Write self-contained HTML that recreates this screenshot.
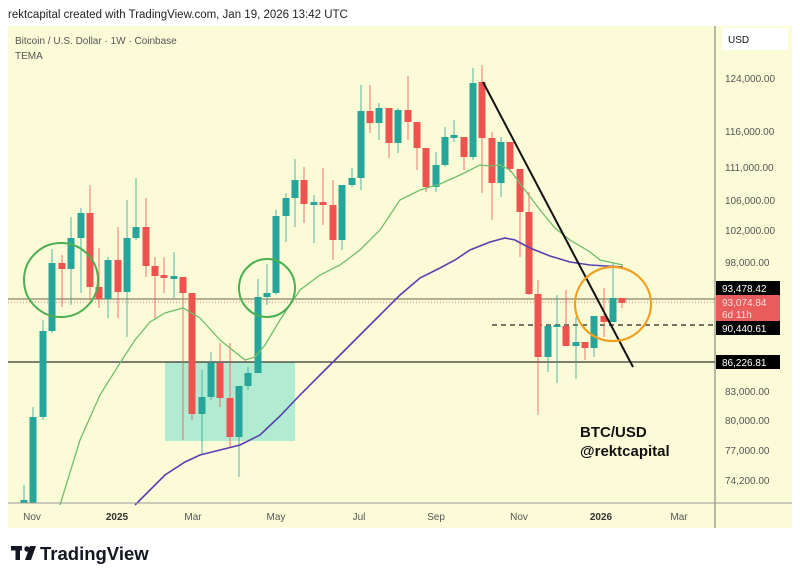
<!DOCTYPE html>
<html><head><meta charset="utf-8"><style>
body{margin:0;background:#fff;width:800px;height:581px;overflow:hidden;font-family:"Liberation Sans",sans-serif}
</style></head><body>
<svg width="800" height="581" xmlns="http://www.w3.org/2000/svg" font-family="Liberation Sans, sans-serif">
<rect x="0" y="0" width="800" height="581" fill="#fff"/>
<text x="8" y="18" font-size="11.5" fill="#222">rektcapital created with TradingView.com, Jan 19, 2026 13:42 UTC</text>
<rect x="8" y="26" width="784" height="502" fill="#fbfbd8"/>
<text x="15" y="44" font-size="10" fill="#555">Bitcoin / U.S. Dollar · 1W · Coinbase</text>
<text x="15" y="59" font-size="10" fill="#555">TEMA</text>
<rect x="165" y="362" width="130" height="79" fill="#a8ead2" opacity="0.9"/>
<line x1="8" y1="299" x2="715" y2="299" stroke="#8a7f6a" stroke-width="1.2"/>
<line x1="8" y1="302" x2="715" y2="302" stroke="#e08080" stroke-width="1" stroke-dasharray="1,2"/>
<line x1="8" y1="362" x2="715" y2="362" stroke="#333" stroke-width="1.2"/>
<line x1="492" y1="325" x2="715" y2="325" stroke="#222" stroke-width="1.2" stroke-dasharray="5,4"/>
<g id="c"></g>
<polyline fill="none" stroke="#6fbf6a" stroke-width="1.3" points="60,505 80,440 100,395 120,363 135,340 150,322 165,313 183,308 200,318 220,340 245,360 255,357 265,345 280,320 300,290 320,275 340,265 360,250 380,230 400,200 420,190 440,184 460,175 480,165 490,166 500,165 510,170 525,190 540,210 555,228 570,240 590,252 600,260 623,265"/>
<polyline fill="none" stroke="#5a3fb0" stroke-width="1.6" points="135,505 150,490 165,475 185,462 200,455 220,450 240,445 260,435 280,416 300,395 320,375 340,355 360,335 380,315 400,295 420,278 440,268 455,260 470,250 490,242 505,238 515,240 530,248 550,256 570,262 590,265 623,267"/>
<line x1="483" y1="82" x2="633" y2="367" stroke="#111" stroke-width="2"/>
<ellipse cx="61" cy="280" rx="37" ry="37" fill="none" stroke="#4caf50" stroke-width="2"/>
<ellipse cx="267" cy="288" rx="28" ry="29" fill="none" stroke="#4caf50" stroke-width="2"/>
<ellipse cx="613" cy="304" rx="38" ry="37" fill="none" stroke="#f0a020" stroke-width="2.2"/>
<text x="580" y="437" font-size="15" font-weight="bold" fill="#111">BTC/USD</text>
<text x="580" y="456" font-size="15" font-weight="bold" fill="#111">@rektcapital</text>
<line x1="715" y1="26" x2="715" y2="528" stroke="#777" stroke-width="1"/>
<line x1="8" y1="503" x2="792" y2="503" stroke="#999" stroke-width="1"/>
<rect x="722" y="28" width="66" height="22" fill="#fff"/>
<text x="728" y="43" font-size="10" fill="#111">USD</text>
<g font-size="10" fill="#555">
<text x="725" y="82">124,000.00</text><text x="725" y="135">116,000.00</text><text x="725" y="171">111,000.00</text><text x="725" y="204">106,000.00</text><text x="725" y="234">102,000.00</text><text x="725" y="266">98,000.00</text><text x="725" y="395">83,000.00</text><text x="725" y="424">80,000.00</text><text x="725" y="454">77,000.00</text><text x="725" y="484">74,200.00</text>
</g>
<rect x="716" y="281" width="64" height="14" fill="#000"/><text x="722" y="292" font-size="10" fill="#fff">93,478.42</text>
<rect x="716" y="295" width="64" height="26" fill="#e85c5c"/><text x="722" y="306" font-size="10" fill="#fdd">93,074.84</text><text x="722" y="318" font-size="10" fill="#fdd">6d 11h</text>
<rect x="716" y="321" width="64" height="14" fill="#000"/><text x="722" y="332" font-size="10" fill="#fff">90,440.61</text>
<rect x="716" y="355" width="64" height="14" fill="#000"/><text x="722" y="366" font-size="10" fill="#fff">86,226.81</text>
<g font-size="10" fill="#555" text-anchor="middle">
<text x="32" y="520">Nov</text><text x="117" y="520" font-weight="bold" fill="#333">2025</text><text x="193" y="520">Mar</text><text x="276" y="520">May</text><text x="359" y="520">Jul</text><text x="436" y="520">Sep</text><text x="519" y="520">Nov</text><text x="601" y="520" font-weight="bold" fill="#333">2026</text><text x="679" y="520">Mar</text>
</g>
<g fill="#131722"><rect x="11" y="546" width="11" height="4.5"/><rect x="15.5" y="546" width="4.5" height="14"/><circle cx="27" cy="549" r="2.7"/><polygon points="30,546 36,546 31,560 25,560"/></g>
<text x="40" y="560" font-size="18.5" font-weight="bold" fill="#131722">TradingView</text>
</svg>
<script>
var d=[[24,505,500,485,510],[33,503,417,407,505],[43,417,331,320,420],[52,331,263,249,333],[62,263,269,255,307],[71,269,238,217,305],[81,238,213,208,293],[90,213,287,185,300],[99,287,299,248,308],[108,299,260,257,318],[118,260,292,227,318],[127,292,238,200,337],[136,238,227,178,240],[146,227,266,198,277],[155,266,276,257,318],[164,275,278,257,293],[174,278,277,252,298],[183,277,293,277,440],[192,293,414,293,420],[202,414,397,370,455],[211,397,363,352,400],[220,363,398,343,407],[230,398,437,343,448],[239,437,386,386,477],[248,386,373,367,390],[258,373,297,279,373],[267,297,293,264,305],[276,293,216,210,295],[286,216,198,193,242],[295,198,180,159,227],[304,180,204,167,223],[314,204,203,195,243],[323,203,204,168,225],[333,205,240,180,260],[342,240,185,185,250],[352,185,178,168,187],[361,178,111,85,190],[370,111,123,85,133],[379,123,108,103,140],[389,108,143,108,158],[398,143,110,108,153],[408,110,122,76,140],[417,122,148,122,170],[426,148,187,148,192],[436,187,165,152,192],[445,165,137,127,167],[454,137,136,120,142],[464,137,157,137,170],[473,157,83,68,160],[482,82,138,65,193],[492,138,183,132,220],[501,183,142,137,197],[510,142,169,142,172],[520,169,212,169,257],[529,212,294,192,295],[538,294,357,280,415],[548,357,326,326,372],[557,327,325,295,383],[566,326,346,290,346],[576,346,342,317,379],[585,342,348,342,360],[594,348,316,316,357],[604,316,322,288,337],[613,322,298,263,322],[622,298,303,298,308]];
var s='';d.forEach(function(c){var x=c[0],o=c[1],cl=c[2],up=cl<o,col=up?'#26a69a':'#ef5350';var t=Math.min(o,cl),b=Math.max(o,cl);if(b-t<2){t-=1;b+=1;}
s+='<line x1="'+x+'" y1="'+c[3]+'" x2="'+x+'" y2="'+Math.min(c[4],503)+'" stroke="'+col+'" stroke-width="1" opacity="0.8"/>';
s+='<rect x="'+(x-3.5)+'" y="'+t+'" width="7" height="'+(Math.min(b,503)-t)+'" fill="'+col+'"/>';});
document.getElementById('c').innerHTML=s;
</script>
</body></html>
